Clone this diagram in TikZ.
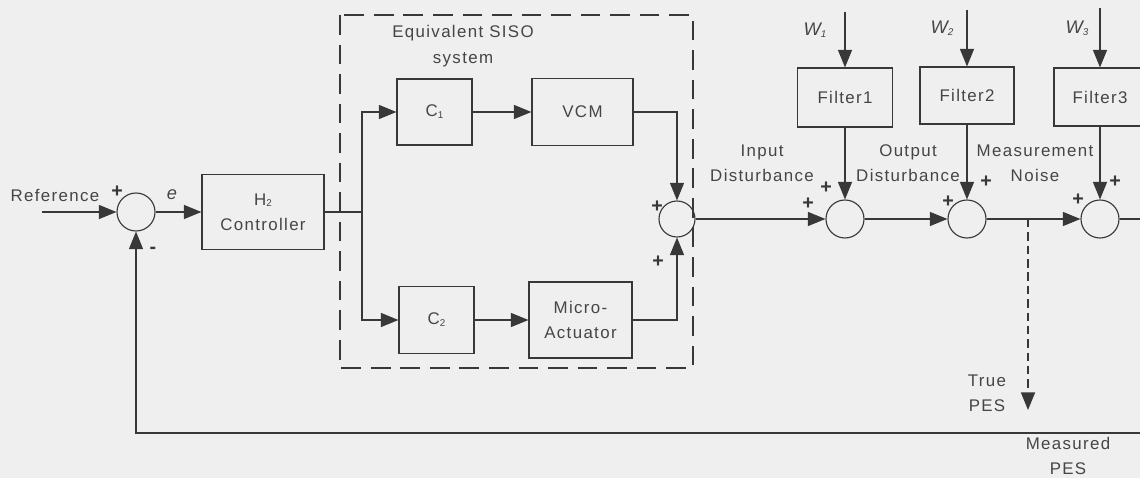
\documentclass[tikz,border=0pt]{standalone}
\usepackage{fontspec}
\setmainfont{Liberation Sans}[LetterSpace=8]
\usetikzlibrary{arrows.meta}
\definecolor{paper}{HTML}{EFEFEF}
\definecolor{ink}{HTML}{383838}
\definecolor{txt}{HTML}{454545}
\newcommand{\diagfont}{\fontsize{12}{18}\selectfont}
\newcommand{\lowidx}[1]{\raisebox{-0.2ex}{\scriptsize #1}}
\tikzset{
  block/.style={draw=ink,line width=0.8pt,rectangle,inner sep=0pt,align=center,text=txt},
  sumnode/.style={draw=ink,line width=0.8pt,circle,inner sep=0pt,minimum size=0.95cm},
  link/.style={draw=ink,line width=0.9pt,-{Triangle[length=12.5pt,width=10pt]}},
  wire/.style={draw=ink,line width=0.9pt},
  lbl/.style={text=txt,align=center,inner sep=0pt},
  sign/.style={text=ink,font=\fontsize{14}{16}\selectfont\bfseries,inner sep=0pt}
}

\begin{document}
\begin{tikzpicture}[x=0.025cm,y=-0.025cm,font=\diagfont]
\fill[paper] (0,0) rectangle (1140,478);
\useasboundingbox (0,0) rectangle (1140,478);

% equivalent SISO system
\draw[ink,line width=0.8pt,dash pattern=on 14pt off 7pt] (340,15) rectangle (693,368);
\node[lbl] (sisolbl) at (463,46) {Equivalent SISO\\system};

% blocks
\node[block,minimum width=3.05cm,minimum height=1.875cm] (h2) at (263,212) {H\lowidx{2}\\Controller};
\node[block,minimum width=1.875cm,minimum height=1.65cm] (c1) at (434.5,112) {C\lowidx{1}};
\node[block,minimum width=2.525cm,minimum height=1.675cm] (vcm) at (582.5,112) {VCM};
\node[block,minimum width=1.875cm,minimum height=1.675cm] (c2) at (436.5,320) {C\lowidx{2}};
\node[block,minimum width=2.575cm,minimum height=1.9cm] (act) at (580.5,320) {Micro-\\Actuator};
\node[block,minimum width=2.375cm,minimum height=1.475cm] (f1) at (845,97.5) {Filter1};
\node[block,minimum width=2.35cm,minimum height=1.425cm] (f2) at (967,95.5) {Filter2};
\node[block,minimum width=2.3cm,minimum height=1.45cm] (f3) at (1100,97) {Filter3};

% summing junctions
\node[sumnode] (s1) at (136,212) {};
\node[sumnode,minimum size=0.9cm] (s2) at (677,219) {};
\node[sumnode] (s3) at (845,219) {};
\node[sumnode] (s4) at (967,219) {};
\node[sumnode] (s5) at (1100,219) {};

% free ends
\coordinate (refin) at (42,212);
\coordinate (split) at (362,212);
\coordinate (w1) at (845,12);
\coordinate (w2) at (967,10);
\coordinate (w3) at (1100,8);
\coordinate (tap) at (1028,219);
\coordinate (truepes) at (1028,410);
\coordinate (edge) at (1143,433);

% connectors
\draw[link] (refin) -- (s1);
\draw[link] (s1) -- (h2);
\draw[wire] (h2) -- (split);
\draw[link] (split) |- (c1);
\draw[link] (split) |- (c2);
\draw[link] (c1) -- (vcm);
\draw[link] (c2) -- (act);
\draw[link] (vcm) -| (s2);
\draw[link] (act) -| (s2);
\draw[link] (s2) -- (s3);
\draw[link] (s3) -- (s4);
\draw[link] (s4) -- (s5);
\draw[link] (w1) -- (f1);
\draw[link] (w2) -- (f2);
\draw[link] (w3) -- (f3);
\draw[link] (f1) -- (s3);
\draw[link] (f2) -- (s4);
\draw[link] (f3) -- (s5);
\draw[link,dash pattern=on 6pt off 3.5pt] (tap) -- (truepes);
\draw[link] (s5) -| (edge) -| (s1);

% labels
\node[lbl] (reflbl) at (55,195) {Reference};
\node[lbl,font=\fontsize{13}{18}\selectfont\itshape] (elbl) at (172,195) {e};
\node[lbl,font=\fontsize{13}{18}\selectfont] (w1lbl) at (815,30) {\itshape W\lowidx{\itshape 1}};
\node[lbl,font=\fontsize{13}{18}\selectfont] (w2lbl) at (942,28) {\itshape W\lowidx{\itshape 2}};
\node[lbl,font=\fontsize{13}{18}\selectfont] (w3lbl) at (1077,28) {\itshape W\lowidx{\itshape 3}};
\node[lbl] (inlbl) at (762,163) {Input\\Disturbance};
\node[lbl] (outlbl) at (908,163) {Output\\Disturbance};
\node[lbl] (noiselbl) at (1035,163) {Measurement\\Noise};
\node[lbl] (truelbl) at (987,393) {True\\PES};
\node[lbl] (measlbl) at (1068,456) {Measured\\PES};

% signs
\node[sign] (p1) at (117,192) {+};
\node[sign] (m1) at (153,250) {-};
\node[sign] (p2a) at (657,207) {+};
\node[sign] (p2b) at (658,262) {+};
\node[sign] (p3a) at (826,188) {+};
\node[sign] (p3b) at (808,204) {+};
\node[sign] (p4a) at (986,182) {+};
\node[sign] (p4b) at (948,202) {+};
\node[sign] (p5a) at (1115,182) {+};
\node[sign] (p5b) at (1078,200) {+};
\end{tikzpicture}
\end{document}
